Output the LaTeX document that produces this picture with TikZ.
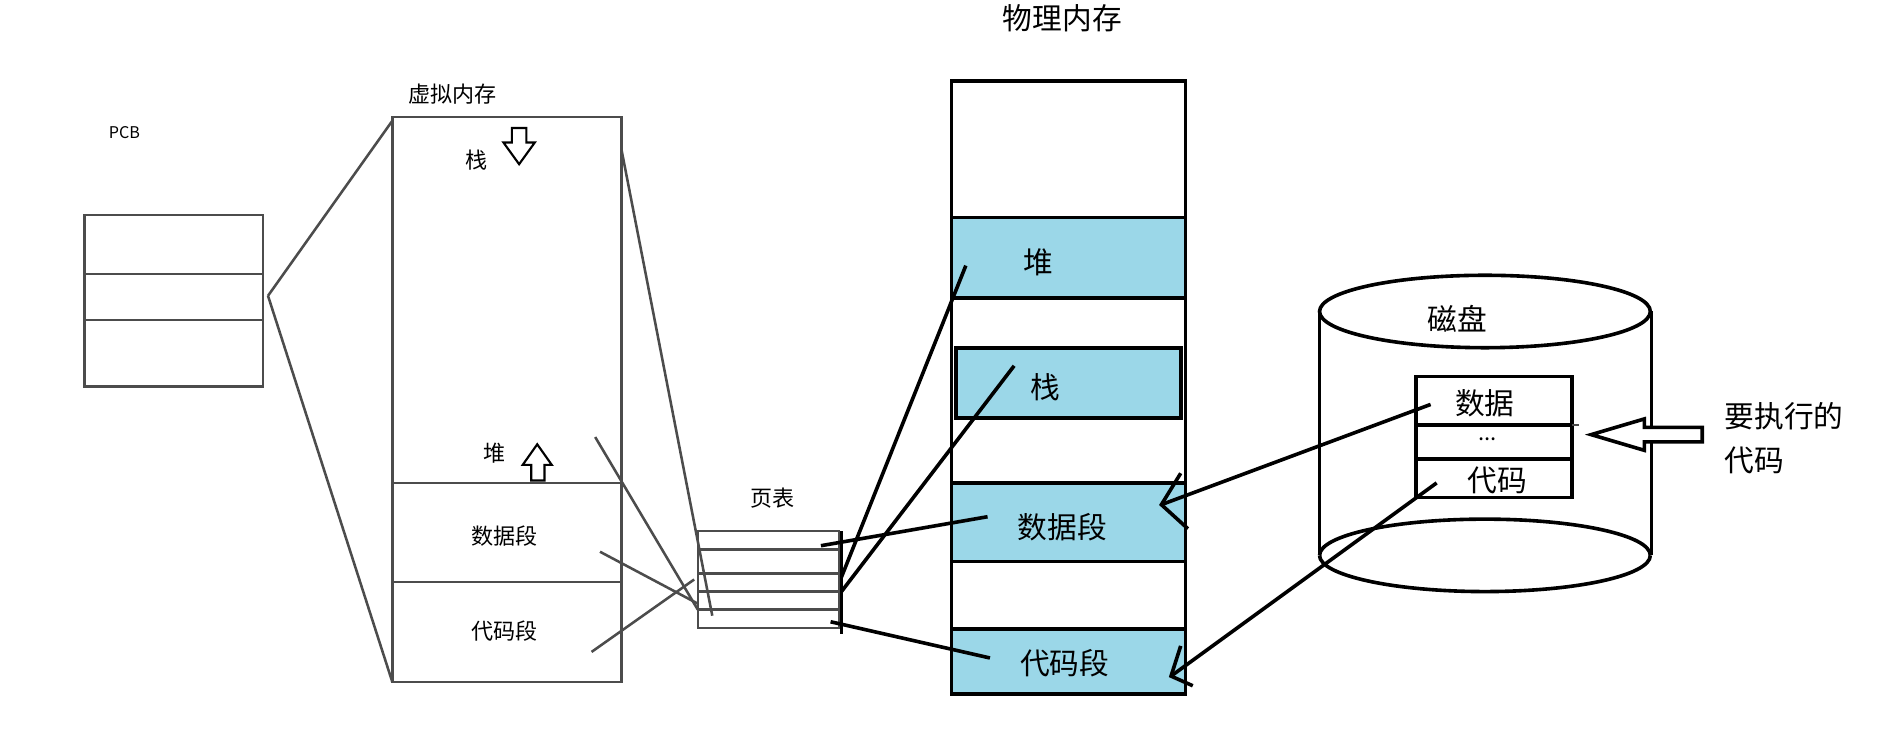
\documentclass[tikz,border=0pt]{standalone}
\usepackage{fontspec}
\setmainfont{Noto Sans CJK SC}
\usetikzlibrary{arrows.meta}
\definecolor{seg}{RGB}{155,215,232}
\tikzset{
 ln/.style={line width=0.6pt,black!70},
 th/.style={line width=0.85pt,black},
 lb/.style={font=\fontsize{5.2}{6}\selectfont,inner sep=0pt},
 blb/.style={font=\fontsize{7}{8.4}\selectfont,inner sep=0pt},
 seg/.style={fill=seg,draw=black,line width=0.85pt},
}
\begin{document}
\begin{tikzpicture}[x=0.01cm,y=-0.01cm]
\useasboundingbox (0,0) rectangle (1568,605);
% PCB
\node[inner sep=0pt,font=\fontsize{3.8}{4}\selectfont] (pcbl) at (103,110) {PCB};
\draw[ln] (70,178) rectangle (218,320);
\draw[ln] (70,227) -- (218,227) (70,265) -- (218,265);
\coordinate (pcbr) at (222,245);
% virtual memory
\node[lb] (vml) at (375,78) {虚拟内存};
\draw[ln] (325,97) rectangle (515,565);
\draw[ln] (325,400) -- (515,400) (325,482) -- (515,482);
\draw[ln] (pcbr) -- (325,100) (pcbr) -- (325,565);
\node[lb] (vstack) at (395,133) {栈};
\node[lb] (vheap) at (410,375) {堆};
\node[lb] (vdata) at (418,444) {数据段};
\node[lb] (vcode) at (418,523) {代码段};
\draw[line width=0.5pt,fill=white] (424,106)--(436,106)--(436,118)--(443,118)--(430,136)--(417,118)--(424,118)--cycle;
\draw[line width=0.5pt,fill=white] (440,398)--(451,398)--(451,385)--(457,385)--(445,368)--(433,385)--(440,385)--cycle;
% page table
\node[lb] (ptl) at (640,413) {页表};
\draw[ln] (578,440) rectangle (695,520);
\foreach \y in {455,475,490,505} \draw[ln] (578,\y) -- (695,\y);
\draw[ln] (515,125) -- (590,510);
\draw[ln] (493,362) -- (578,505);
\draw[ln] (497,457) -- (578,500);
\draw[ln] (490,540) -- (575,480);
% physical memory
\node[blb] (pml) at (880,15) {物理内存};
\draw[th] (788,67) rectangle (982,575);
\draw[seg] (788,180) rectangle (982,247);
\draw[seg] (792,288) rectangle (978,346);
\draw[seg] (788,400) rectangle (982,465);
\draw[seg] (788,521) rectangle (982,575);
\node[blb] (pheap) at (860,217) {堆};
\node[blb] (pstack) at (866,321) {栈};
\node[blb] (pdata) at (880,437) {数据段};
\node[blb] (pcode) at (882,549) {代码段};
\draw[th] (697,440) -- (697,525);
\draw[th] (680,452) -- (818,428);
\draw[th] (697,478) -- (800,220);
\draw[th] (697,490) -- (840,303);
\draw[th] (688,515) -- (820,545);
% disk
\draw[th] (1093,258) -- (1093,460) (1368,258) -- (1368,460);
\draw[th] (1230,258) ellipse (137 and 30);
\draw[th] (1093,460) arc (180:360:137 and 30);
\draw[th] (1093,460) arc (180:0:137 and 30);
\node[blb] (disk) at (1207,264) {磁盘};
\draw[th] (1173,312) rectangle (1302,412);
\draw[th] (1173,352) -- (1302,352) (1173,380) -- (1302,380);
\draw[ln] (1302,352) -- (1308,352);
\node[blb] (ddata) at (1230,334) {数据};
\node[lb] (ddots) at (1232,364) {...};
\node[blb] (dcode) at (1240,398) {代码};
% arrows to phys
\draw[th] (1185,335) -- (962,418);
\draw[th] (978,392) -- (962,418) -- (984,438);
\draw[th] (1190,400) -- (970,560);
\draw[th] (978,535) -- (970,560) -- (988,568);
% hollow arrow
\draw[th,fill=white] (1410,354)--(1362,354)--(1362,347)--(1318,360)--(1362,373)--(1362,366)--(1410,366)--cycle;
\node[blb,align=left,anchor=west] (exe) at (1428,363) {要执行的\\[2pt]代码};
\end{tikzpicture}
\end{document}
